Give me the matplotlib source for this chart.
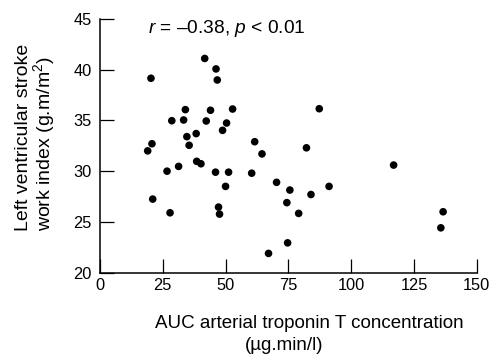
import matplotlib
matplotlib.use("Agg")
import matplotlib.pyplot as plt

plt.rcParams["font.family"] = ["Liberation Sans", "DejaVu Sans"]
plt.rcParams["mathtext.fontset"] = "custom"
plt.rcParams["mathtext.rm"] = "Liberation Sans"
plt.rcParams["mathtext.it"] = "Liberation Sans:italic"

# AUC arterial troponin T (ug.min/l) vs LV stroke work index (g.m/m2)
auc = [20.3, 19.0, 20.7, 21.0, 28.6, 26.7, 27.9, 31.3, 34.0, 33.3,
       34.6, 35.5, 38.3, 38.5, 40.2, 41.7, 42.3, 44.0, 46.2, 46.7,
       46.0, 47.2, 47.6, 48.8, 50.4, 50.0, 51.2, 52.8, 60.4, 61.6,
       64.5, 67.1, 70.3, 74.4, 75.6, 74.7, 79.1, 82.2, 87.3, 116.9,
       84.0, 91.2, 136.6, 135.7]
lvswi = [39.15, 32.0, 32.7, 27.25, 34.97, 30.0, 25.9, 30.47, 36.06, 35.04,
         33.4, 32.55, 33.7, 30.97, 30.73, 41.1, 34.94, 36.0, 40.07, 38.98,
         29.9, 26.46, 25.77, 34.02, 34.74, 28.5, 29.9, 36.12, 29.8, 32.9,
         31.7, 21.9, 28.9, 26.9, 28.14, 22.94, 25.84, 32.3, 36.15, 30.6,
         27.7, 28.5, 26.0, 24.42]

x_ticks = [0, 25, 50, 75, 100, 125, 150]
y_ticks = [20, 25, 30, 35, 40, 45]

W, H = 490, 356
fig = plt.figure(figsize=(W / 100, H / 100), dpi=100)
ax = fig.add_axes([0.204, 0.234, 0.769, 0.713])

ax.scatter(auc, lvswi, s=30, color="black", edgecolors="none", zorder=3)

ax.set_xlim(0, 150)
ax.set_ylim(20, 45)
ax.set_xticks(x_ticks)
ax.set_yticks(y_ticks)
ax.tick_params(direction="in", length=10, width=0.9, labelsize=11.8)
ax.tick_params(axis="y", pad=6)
ax.tick_params(axis="x", pad=4)

for side in ["top", "right"]:
    ax.spines[side].set_visible(False)
for side in ["left", "bottom"]:
    ax.spines[side].set_linewidth(1.1)

# axis titles, placed line by line as in the original
fig.text(155 / W, 1 - 328 / H, "AUC arterial troponin T concentration",
         fontsize=13.5, ha="left", va="baseline")
fig.text(245 / W, 1 - 350 / H, "(\u00b5g.min/l)",
         fontsize=13.5, ha="left", va="baseline")
fig.text(51 / W, 1 - 231 / H,
         "Left ventricular stroke\nwork index (g.m/m$^2$)",
         fontsize=14, rotation=90, rotation_mode="anchor",
         ha="left", va="baseline", multialignment="left", linespacing=0.95)

ax.text(19.1, 43.62, "$\\it{r}$ = \u20130.38, $\\it{p}$ < 0.01", fontsize=13.8,
        va="baseline", ha="left")

fig.savefig("out.png", dpi=100)
